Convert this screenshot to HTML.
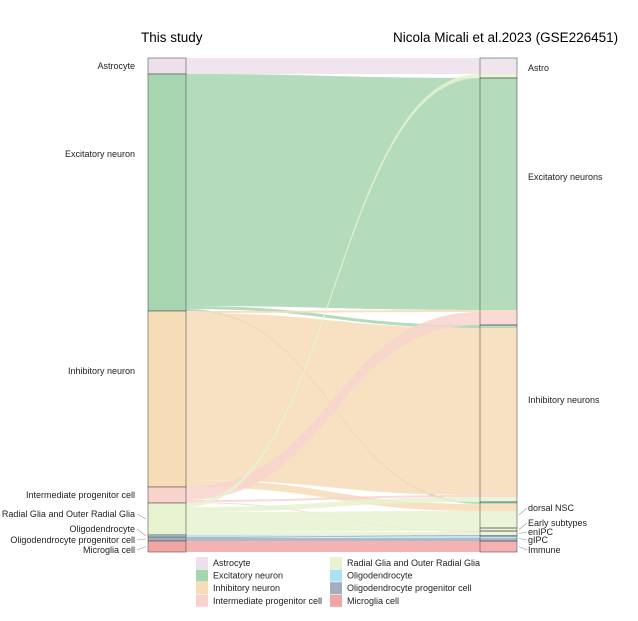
<!DOCTYPE html>
<html><head><meta charset="utf-8"><style>
body{margin:0;background:#fff;width:638px;height:616px;overflow:hidden}
svg{font-family:"Liberation Sans",Arial,sans-serif}
</style></head><body>
<svg id="chart" width="638" height="616" viewBox="0 0 638 616">
<text x="141" y="42" font-size="13.5">This study</text>
<text x="393" y="42" font-size="13.5">Nicola Micali et al.2023 (GSE226451)</text>
<g id="flows"></g><g id="nodes"></g><g id="labels"></g><g id="legend"></g>
</svg>
<script>
const leftNodes=["Astrocyte","Excitatory neuron","Inhibitory neuron","Intermediate progenitor cell","Radial Glia and Outer Radial Glia","Oligodendrocyte","Oligodendrocyte progenitor cell","Microglia cell"];
const rightNodes=["Astro","Excitatory neurons","Inhibitory neurons","dorsal NSC","Early subtypes","enIPC","gIPC","Immune"];
const flowSource=[0,1,1,1,2,2,2,3,3,3,4,4,4,4,4,5,6,6,7];
const flowTarget=[0,1,2,3,1,2,3,1,2,5,0,2,3,4,5,6,5,6,7];
const flowValue=[16,232,3,2,2,167,7,13,2,1,4,5,17,3,3,2,1,3,11];
const colors=["#ede0ec","#a6d5b0","#f7dcb8","#f8d3cc","#e6f2d0","#aee0f2","#9fafbf","#f2a5a5"];
const NS="http://www.w3.org/2000/svg";
const top0=58,bottom0=552,xL0=148,xL1=186,xR0=480,xR1=517;
const total=flowValue.reduce((a,b)=>a+b,0);
const k=(bottom0-top0)/total;
function mk(t,a,p){const e=document.createElementNS(NS,t);for(const q in a)e.setAttribute(q,a[q]);p.appendChild(e);return e;}
const lsz=leftNodes.map((_,i)=>flowValue.reduce((s,v,j)=>s+(flowSource[j]===i?v:0),0));
const rsz=rightNodes.map((_,i)=>flowValue.reduce((s,v,j)=>s+(flowTarget[j]===i?v:0),0));
const ly=[],ry=[];let y=top0;lsz.forEach(v=>{ly.push(y);y+=v*k});y=top0;rsz.forEach(v=>{ry.push(y);y+=v*k});
const lo=ly.slice(),ro=ry.slice();
const fl=document.getElementById('flows');
const idx=flowValue.map((_,i)=>i);
const lOrder=idx.slice().sort((a,b)=>flowSource[a]-flowSource[b]||flowTarget[a]-flowTarget[b]);
const yS={},yT={};
lOrder.forEach(i=>{yS[i]=lo[flowSource[i]];lo[flowSource[i]]+=flowValue[i]*k;});
const rOrder=idx.slice().sort((a,b)=>flowTarget[a]-flowTarget[b]||flowSource[a]-flowSource[b]);
rOrder.forEach(i=>{yT[i]=ro[flowTarget[i]];ro[flowTarget[i]]+=flowValue[i]*k;});
idx.forEach(i=>{
 const h=flowValue[i]*k,a=yS[i],b=yT[i],m=(xL1+xR0)/2;
 const d=`M${xL1},${a}C${m},${a} ${m},${b} ${xR0},${b}L${xR1},${b}L${xR1},${b+h}L${xR0},${b+h}C${m},${b+h} ${m},${a+h} ${xL1},${a+h}Z`;
 const p=mk('path',{d:d,fill:colors[flowSource[i]],'fill-opacity':0.85},fl);
 
 
});
const nd=document.getElementById('nodes');
leftNodes.forEach((n,i)=>{const r=mk('rect',{x:xL0,y:ly[i],width:xL1-xL0,height:lsz[i]*k,fill:colors[i],stroke:'#555','stroke-width':0.6},nd);
 });
rightNodes.forEach((n,i)=>{const r=mk('rect',{x:xR0,y:ry[i],width:xR1-xR0,height:rsz[i]*k,fill:'none',stroke:'#555','stroke-width':0.6},nd);
 });
const lb=document.getElementById('labels');
const lLab=[69,157,374,498,517,532,543,553];
const rLab=[71,180,403,511,526,535,543,553];
leftNodes.forEach((n,i)=>{const c=ly[i]+lsz[i]*k/2;const ty=lLab[i];
 if(i>=4){mk('path',{d:`M137,${ty-3}L146,${c}`,stroke:'#999','stroke-width':0.6,fill:'none'},lb);}
 const t=mk('text',{x:135,y:ty,'font-size':9,'text-anchor':'end',fill:'#222'},lb);t.textContent=n;
 });
rightNodes.forEach((n,i)=>{const c=ry[i]+rsz[i]*k/2;const ty=rLab[i];
 if(i>=3){mk('path',{d:`M519,${c}L527,${ty-3}`,stroke:'#999','stroke-width':0.6,fill:'none'},lb);}
 const t=mk('text',{x:528,y:ty,'font-size':9,fill:'#222'},lb);t.textContent=n;
 });
const lg=document.getElementById('legend');
leftNodes.forEach((n,i)=>{const col=Math.floor(i/4),row=i%4;const x=col?330:196,yy=557+row*12.6;
 const r=mk('rect',{x:x,y:yy,width:12,height:12,fill:colors[i]},lg);
 
 const t=mk('text',{x:x+17,y:yy+9,'font-size':9,fill:'#222'},lg);t.textContent=n;
 });
</script>
</body></html>
